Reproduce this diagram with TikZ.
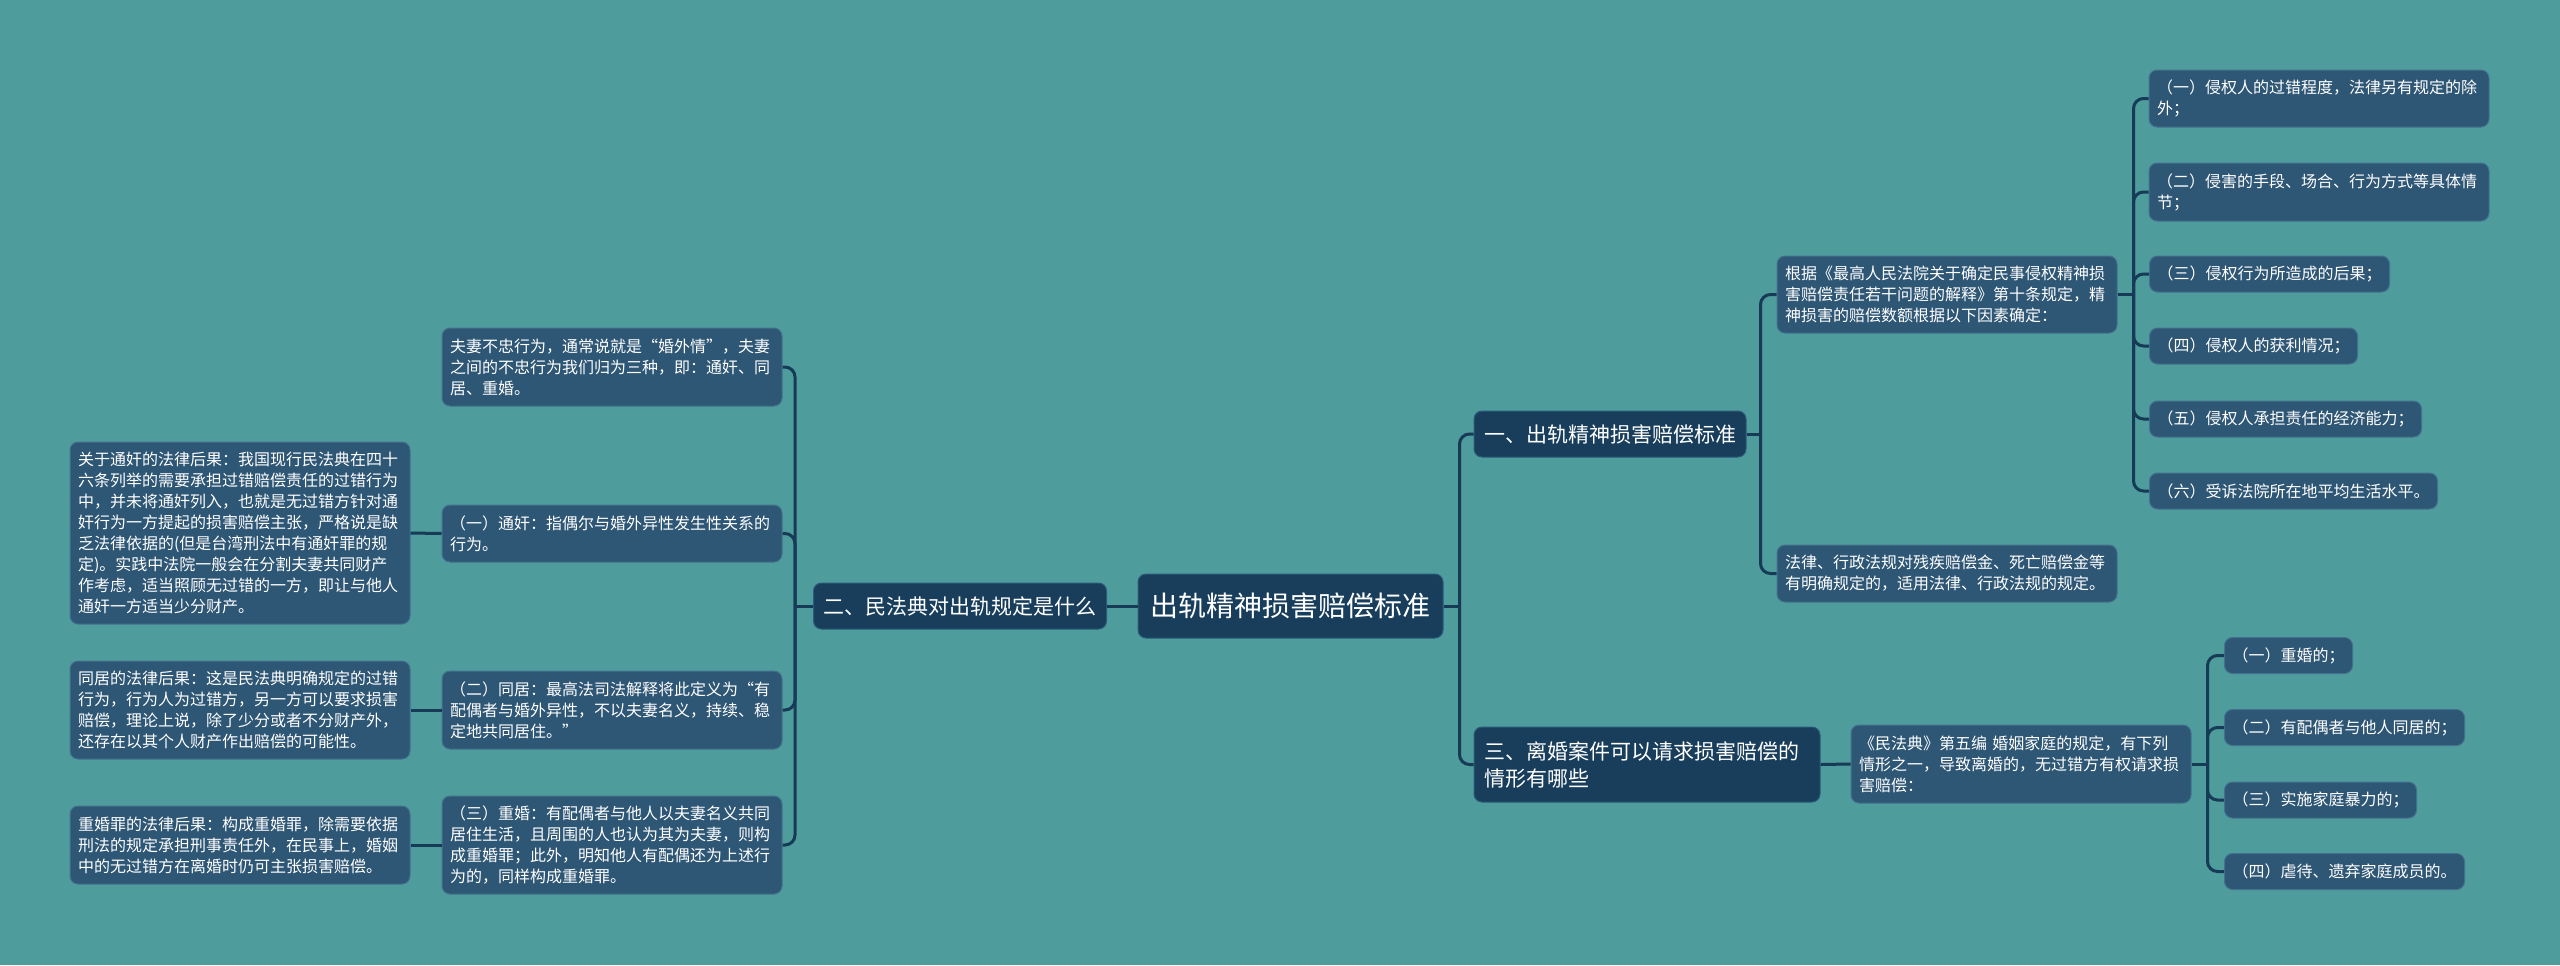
\documentclass[tikz,border=0pt]{standalone}
\usepackage{fontspec}
\newfontfamily\cjk{Noto Sans CJK SC}
\definecolor{bgc}{HTML}{4E9C9C}
\definecolor{mainc}{HTML}{183E5C}
\definecolor{mainb}{HTML}{2B5B78}
\definecolor{leafc}{HTML}{2E5675}
\definecolor{leafb}{HTML}{44728E}
\definecolor{connc}{HTML}{173A57}
\tikzset{
  basenode/.style={rounded corners=4pt, text=white, inner ysep=0pt},
  leaf/.style={basenode, fill=leafc, draw=leafb, line width=0.5pt, inner xsep=4pt,
    font=\cjk\fontsize{8}{10.5}\selectfont, align=left, minimum height=18pt},
  wide/.style={leaf, text width=162pt},
  mainnode/.style={basenode, fill=mainc, draw=mainb, line width=0.5pt, inner xsep=5pt,
    font=\cjk\fontsize{10.5}{13.5}\selectfont, align=left, minimum height=23pt},
  rootnode/.style={basenode, fill=mainc, draw=mainb, line width=0.5pt, inner xsep=6.25pt,
    font=\cjk\fontsize{14}{17}\selectfont, minimum height=32pt},
  conn/.style={draw=connc, line width=1.5pt, rounded corners=5pt},
}
\begin{document}
\begin{tikzpicture}[x=0.5pt, y=-0.5pt]
\fill[bgc] (0,0) rectangle (2560,965);
\useasboundingbox (0,0) rectangle (2560,965);

% root and level 1
\node[rootnode] (root) at (1290.5,606) {出轨精神损害赔偿标准};
\node[mainnode] (L2) at (960,606) {二、民法典对出轨规定是什么};
\node[mainnode] (R1) at (1610,434) {一、出轨精神损害赔偿标准};
\node[mainnode, text width=163pt, minimum height=37.5pt] (R3) at (1647,764.5) {三、离婚案件可以请求损害赔偿的\\情形有哪些};

% left children
\node[wide, minimum height=39pt] (A0) at (612,367) {夫妻不忠行为，通常说就是“婚外情”，夫妻\\之间的不忠行为我们归为三种，即：通奸、同\\居、重婚。};
\node[wide, minimum height=28.5pt] (A1) at (612,533.5) {（一）通奸：指偶尔与婚外异性发生性关系的\\行为。};
\node[wide, minimum height=39pt] (A2) at (612,710) {（二）同居：最高法司法解释将此定义为“有\\配偶者与婚外异性，不以夫妻名义，持续、稳\\定地共同居住。”};
\node[wide, minimum height=49pt] (A3) at (612,845) {（三）重婚：有配偶者与他人以夫妻名义共同\\居住生活，且周围的人也认为其为夫妻，则构\\成重婚罪；此外，明知他人有配偶还为上述行\\为的，同样构成重婚罪。};

\node[wide, minimum height=91pt] (B1) at (240,533) {关于通奸的法律后果：我国现行民法典在四十\\六条列举的需要承担过错赔偿责任的过错行为\\中，并未将通奸列入，也就是无过错方针对通\\奸行为一方提起的损害赔偿主张，严格说是缺\\乏法律依据的(但是台湾刑法中有通奸罪的规\\定)。实践中法院一般会在分割夫妻共同财产\\作考虑，适当照顾无过错的一方，即让与他人\\通奸一方适当少分财产。};
\node[wide, minimum height=49pt] (B2) at (240,710) {同居的法律后果：这是民法典明确规定的过错\\行为，行为人为过错方，另一方可以要求损害\\赔偿，理论上说，除了少分或者不分财产外，\\还存在以其个人财产作出赔偿的可能性。};
\node[wide, minimum height=39pt] (B3) at (240,845) {重婚罪的法律后果：构成重婚罪，除需要依据\\刑法的规定承担刑事责任外，在民事上，婚姻\\中的无过错方在离婚时仍可主张损害赔偿。};

% right, branch one
\node[wide, minimum height=38.5pt] (C1) at (1947,294.5) {根据《最高人民法院关于确定民事侵权精神损\\害赔偿责任若干问题的解释》第十条规定，精\\神损害的赔偿数额根据以下因素确定：};
\node[wide, minimum height=28.5pt] (C2) at (1947,573.5) {法律、行政法规对残疾赔偿金、死亡赔偿金等\\有明确规定的，适用法律、行政法规的规定。};

\node[wide, minimum height=28.5pt] (D1) at (2319,98.5) {（一）侵权人的过错程度，法律另有规定的除\\外；};
\node[wide, minimum height=29pt] (D2) at (2319,192) {（二）侵害的手段、场合、行为方式等具体情\\节；};
\node[leaf, anchor=west] (D3) at (2149,274) {（三）侵权行为所造成的后果；};
\node[leaf, anchor=west] (D4) at (2149,346) {（四）侵权人的获利情况；};
\node[leaf, anchor=west] (D5) at (2149,419) {（五）侵权人承担责任的经济能力；};
\node[leaf, anchor=west] (D6) at (2149,491) {（六）受诉法院所在地平均生活水平。};

% right, branch three
\node[wide, minimum height=39pt] (E0) at (2021,764) {《民法典》第五编 婚姻家庭的规定，有下列\\情形之一，导致离婚的，无过错方有权请求损\\害赔偿：};
\node[leaf, anchor=west] (E1) at (2224,655.5) {（一）重婚的；};
\node[leaf, anchor=west] (E2) at (2224,727.5) {（二）有配偶者与他人同居的；};
\node[leaf, anchor=west] (E3) at (2224,800) {（三）实施家庭暴力的；};
\node[leaf, anchor=west] (E4) at (2224,871.5) {（四）虐待、遗弃家庭成员的。};

% connectors
\draw[conn] (root.west) -- (L2.east);
\draw[conn] (root.east) -- ++(16,0) coordinate (jR);
\foreach \n in {R1,R3} \draw[conn] (jR) |- (\n.west);
\draw[conn] (L2.west) -- ++(-18,0) coordinate (jL);
\foreach \n in {A0,A1,A2,A3} \draw[conn] (jL) |- (\n.east);
\draw[conn] (A1.west) -- (B1.east);
\draw[conn] (A2.west) -- (B2.east);
\draw[conn] (A3.west) -- (B3.east);
\draw[conn] (R1.east) -- ++(14,0) coordinate (j1);
\foreach \n in {C1,C2} \draw[conn] (j1) |- (\n.west);
\draw[conn] (C1.east) -- ++(16,0) coordinate (j2);
\foreach \n in {D1,D2,D3,D4,D5,D6} \draw[conn] (j2) |- (\n.west);
\draw[conn] (R3.east) -- (E0.west);
\draw[conn] (E0.east) -- ++(16,0) coordinate (j3);
\foreach \n in {E1,E2,E3,E4} \draw[conn] (j3) |- (\n.west);
\end{tikzpicture}
\end{document}
